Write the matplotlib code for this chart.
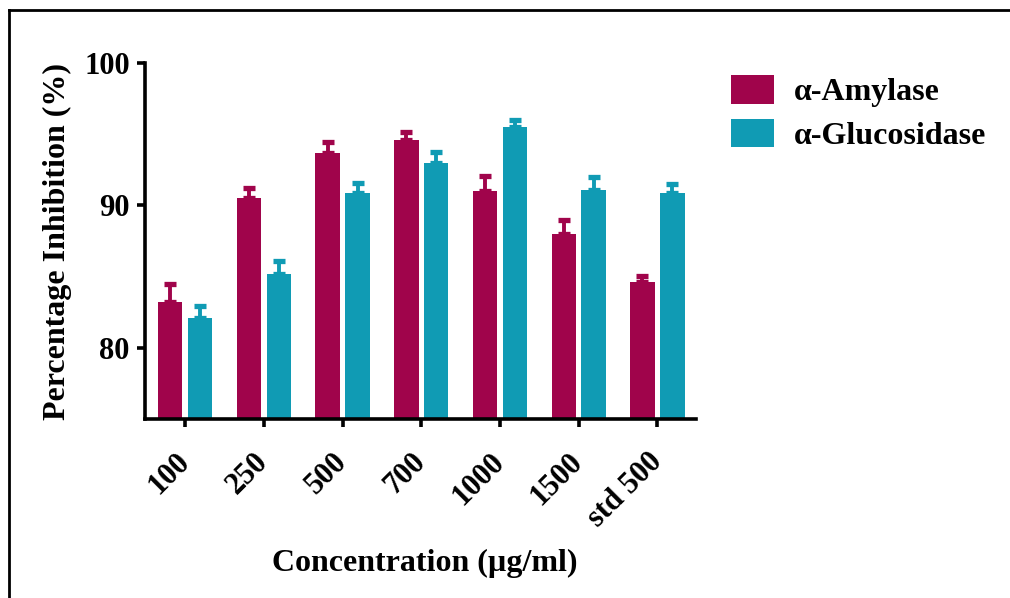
import matplotlib
matplotlib.use("Agg")
import matplotlib.pyplot as plt
from matplotlib.lines import Line2D
from matplotlib.patches import Patch
import numpy as np

categories = ["100", "250", "500", "700", "1000", "1500", "std 500"]
amylase = [83.2, 90.5, 93.7, 94.6, 91.0, 88.0, 84.6]
amylase_err = [1.3, 0.7, 0.75, 0.55, 1.05, 1.0, 0.45]
glucosidase = [82.1, 85.2, 90.9, 93.0, 95.5, 91.1, 90.85]
glucosidase_err = [0.85, 0.9, 0.65, 0.75, 0.5, 0.9, 0.65]
series_names = ["\u03b1-Amylase", "\u03b1-Glucosidase"]

c_amy = "#A0044B"
c_glu = "#109BB4"

plt.rcParams['font.family'] = ['Liberation Serif', 'DejaVu Serif']
plt.rcParams['font.weight'] = 'bold'

fig = plt.figure(figsize=(10.10, 5.98), dpi=100)
ax = fig.add_axes([145/1010, 1-419/598, 551/1010, (419-63)/598])

x = np.arange(len(categories))
w = 0.31
off = 0.19
ax.bar(x - off, amylase, width=w, color=c_amy, zorder=2)
ax.bar(x + off, glucosidase, width=w, color=c_glu, zorder=2)
n = len(categories)
ax.errorbar(x - off, amylase, yerr=[np.zeros(n), amylase_err], fmt='none',
            ecolor=c_amy, elinewidth=2.8, capsize=4.5, capthick=3.8, zorder=1)
ax.errorbar(x + off, glucosidase, yerr=[np.zeros(n), glucosidase_err], fmt='none',
            ecolor=c_glu, elinewidth=2.8, capsize=4.5, capthick=3.8, zorder=1)

ax.set_ylim(75, 100)
ax.set_xlim(-0.51, 6.49)
ax.set_yticks([80, 90, 100])
ax.set_xticks(x)
ax.set_xticklabels(categories, rotation=45, ha='right', va='center',
                   rotation_mode='anchor', fontsize=22, fontweight='bold')
for lab in ax.get_yticklabels():
    lab.set_fontsize(22)
    lab.set_fontweight('bold')

for s in ['top', 'right']:
    ax.spines[s].set_visible(False)
for s in ['left', 'bottom']:
    ax.spines[s].set_linewidth(2.6)
ax.tick_params(axis='both', length=6, width=2.6, pad=5)
ax.tick_params(axis='x', pad=22)

ax.set_ylabel("Percentage Inhibition (%)", fontsize=23, fontweight='bold')
ax.yaxis.set_label_coords((72-145)/551, 0.5)
fig.text(425/1010, 1-563/598, "Concentration (\u00b5g/ml)", fontsize=23,
         fontweight='bold', ha='center', va='center')

handles = [Patch(facecolor=c_amy), Patch(facecolor=c_glu)]
fig.legend(handles, series_names, loc='upper left',
           bbox_to_anchor=(728/1010, 1-72/598), frameon=False,
           handlelength=1.35, handleheight=1.0,
           handletextpad=0.62, labelspacing=0.35, borderaxespad=0,
           borderpad=0.1, prop={'weight': 'bold', 'size': 23})

fig.add_artist(Line2D([8.5/1010, 1.0], [1-10/598, 1-10/598], color='black', lw=2, transform=fig.transFigure))
fig.add_artist(Line2D([8.5/1010, 8.5/1010], [0, 1-10/598], color='black', lw=2, transform=fig.transFigure))

fig.savefig("out.png", dpi=100)
